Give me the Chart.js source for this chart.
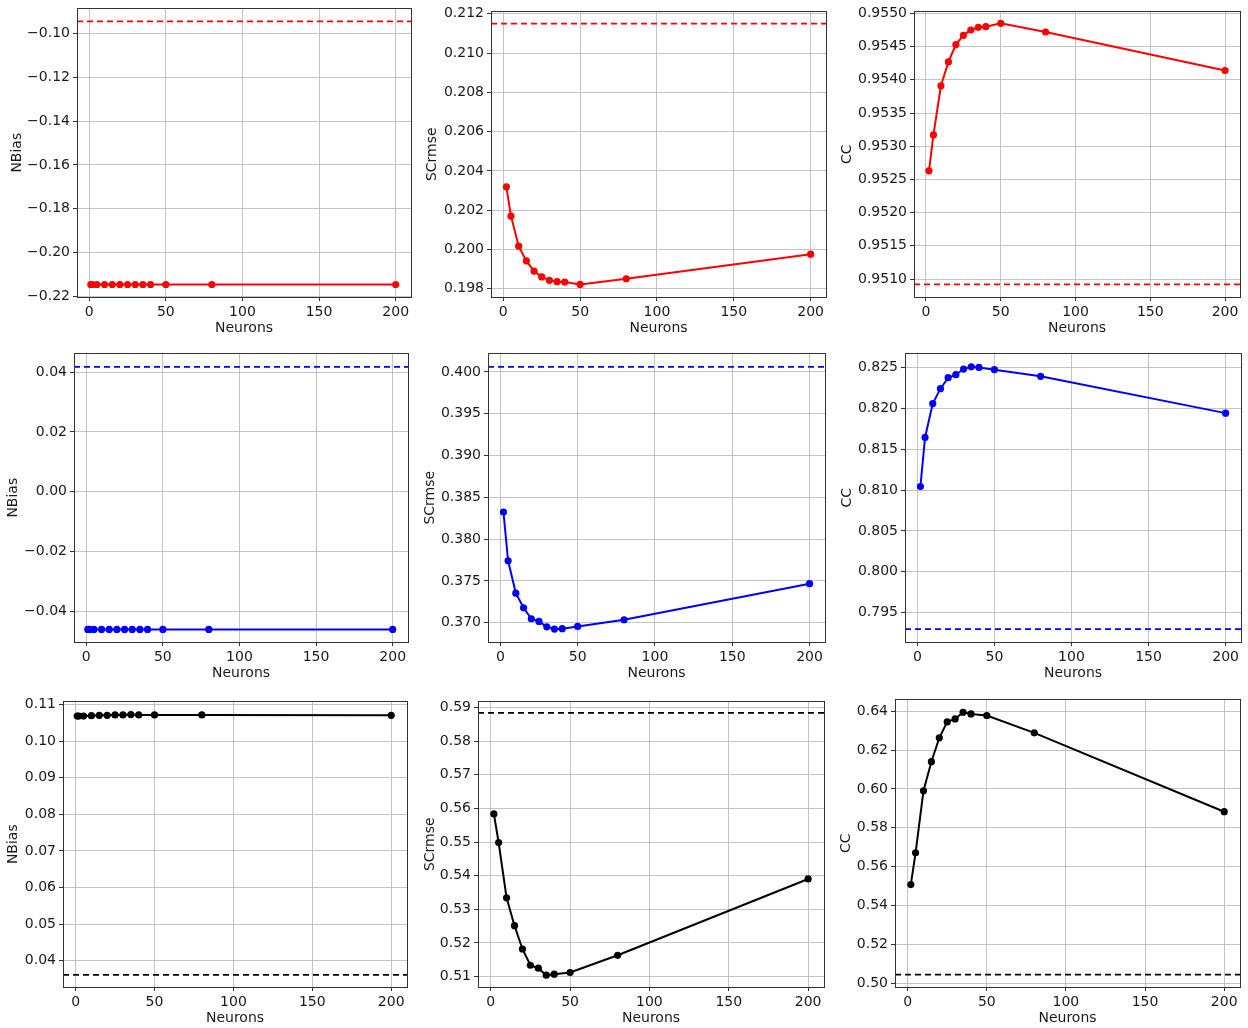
<!DOCTYPE html>
<html>
<head>
<meta charset="utf-8">
<script src="https://cdn.jsdelivr.net/npm/chart.js@4/dist/chart.umd.min.js"></script>
<style>
  body { margin: 0; background: #fff; }
  #wrap { position: relative; width: 1248px; height: 1028px; overflow: hidden; }
  .panel { position: absolute; }
</style>
</head>
<body>
<div id="wrap"></div>
<script>
// x values (number of neurons)
var neurons = [2, 5, 10, 15, 20, 25, 30, 35, 40, 50, 80, 200];
var neuronsNBias = [1, 2, 5, 10, 15, 20, 25, 30, 35, 40, 50, 80, 200];
var xTicks = [0, 50, 100, 150, 200];

// red row
var nbiasRed = [-0.2145, -0.2145, -0.2145, -0.2145, -0.2145, -0.2145, -0.2145, -0.2145, -0.2145, -0.2145, -0.2145, -0.2145, -0.2145];
var scrmseRed = [0.20319, 0.2017, 0.20017, 0.19942, 0.1989, 0.1986, 0.19843, 0.19836, 0.19834, 0.19822, 0.19851, 0.19976];
var ccRed = [0.95263, 0.95317, 0.95391, 0.95427, 0.95453, 0.95467, 0.95475, 0.95479, 0.9548, 0.95485, 0.95472, 0.95414];
var refRed = [-0.0945, 0.2115, 0.95092];

// blue row
var nbiasBlue = [-0.0461, -0.0461, -0.0461, -0.0461, -0.0461, -0.0461, -0.0461, -0.0461, -0.0461, -0.0461, -0.0461, -0.0461, -0.0461];
var scrmseBlue = [0.38325, 0.37742, 0.37354, 0.37179, 0.37048, 0.37016, 0.36952, 0.36925, 0.36929, 0.36956, 0.37036, 0.37468];
var ccBlue = [0.81045, 0.81646, 0.82061, 0.82244, 0.82378, 0.82415, 0.82484, 0.82512, 0.82504, 0.82476, 0.82395, 0.81944];
var refBlue = [0.0418, 0.4006, 0.79298];

// black row
var nbiasBlack = [0.1069, 0.1069, 0.1069, 0.107, 0.1071, 0.1071, 0.1072, 0.1072, 0.1073, 0.1072, 0.1072, 0.1072, 0.1071];
var scrmseBlack = [0.55834, 0.54986, 0.5334, 0.52512, 0.5182, 0.51337, 0.51249, 0.51041, 0.51071, 0.51121, 0.51633, 0.53902];
var ccBlack = [0.55073, 0.56712, 0.59903, 0.61403, 0.62633, 0.63452, 0.63606, 0.63949, 0.63862, 0.6378, 0.62889, 0.58827];
var refBlack = [0.0361, 0.5884, 0.5044];

// y tick labels
var ticksNBiasRed = [-0.22, -0.20, -0.18, -0.16, -0.14, -0.12, -0.10];
var ticksSCrmseRed = [0.198, 0.200, 0.202, 0.204, 0.206, 0.208, 0.210, 0.212];
var ticksCCRed = [0.9510, 0.9515, 0.9520, 0.9525, 0.9530, 0.9535, 0.9540, 0.9545, 0.9550];
var ticksNBiasBlue = [-0.04, -0.02, 0.00, 0.02, 0.04];
var ticksSCrmseBlue = [0.370, 0.375, 0.380, 0.385, 0.390, 0.395, 0.400];
var ticksCCBlue = [0.795, 0.800, 0.805, 0.810, 0.815, 0.820, 0.825];
var ticksNBiasBlack = [0.04, 0.05, 0.06, 0.07, 0.08, 0.09, 0.10, 0.11];
var ticksSCrmseBlack = [0.51, 0.52, 0.53, 0.54, 0.55, 0.56, 0.57, 0.58, 0.59];
var ticksCCBlack = [0.50, 0.52, 0.54, 0.56, 0.58, 0.60, 0.62, 0.64];

var X_MIN = -8, X_MAX = 210;
var FONT = { family: "'DejaVu Sans', sans-serif", size: 14 };
var TXT = '#1a1a1a';

// frame = [left, top, right, bottom] of the plot box, tx = centre of y title
var panels = [
  { frame: [77, 7, 411, 297],    tx: 17,  label: 'NBias',  x: neuronsNBias, y: nbiasRed,    ref: refRed[0],   color: '#ff0000', min: -0.2202, max: -0.0886, ticks: ticksNBiasRed,    dec: 2 },
  { frame: [491, 10, 826, 297],  tx: 432, label: 'SCrmse', x: neurons,      y: scrmseRed,   ref: refRed[1],   color: '#ff0000', min: 0.19758, max: 0.21212, ticks: ticksSCrmseRed,   dec: 3 },
  { frame: [914, 10, 1240, 297], tx: 847, label: 'CC',     x: neurons,      y: ccRed,       ref: refRed[2],   color: '#ff0000', min: 0.95073, max: 0.95503, ticks: ticksCCRed,       dec: 4 },
  { frame: [74, 352, 408, 642],  tx: 13,  label: 'NBias',  x: neuronsNBias, y: nbiasBlue,   ref: refBlue[0],  color: '#0000ff', min: -0.0503, max: 0.0463,  ticks: ticksNBiasBlue,   dec: 2 },
  { frame: [488, 352, 825, 642], tx: 430, label: 'SCrmse', x: neurons,      y: scrmseBlue,  ref: refBlue[1],  color: '#0000ff', min: 0.3677,  max: 0.40222, ticks: ticksSCrmseBlue,  dec: 3 },
  { frame: [905, 352, 1241, 642],tx: 847, label: 'CC',     x: neurons,      y: ccBlue,      ref: refBlue[2],  color: '#0000ff', min: 0.79139, max: 0.82676, ticks: ticksCCBlue,      dec: 3 },
  { frame: [63, 700, 407, 987],  tx: 13,  label: 'NBias',  x: neuronsNBias, y: nbiasBlack,  ref: refBlack[0], color: '#000000', min: 0.0328,  max: 0.1109,  ticks: ticksNBiasBlack,  dec: 2 },
  { frame: [478, 700, 824, 987], tx: 430, label: 'SCrmse', x: neurons,      y: scrmseBlack, ref: refBlack[1], color: '#000000', min: 0.5069,  max: 0.5918,  ticks: ticksSCrmseBlack, dec: 2 },
  { frame: [895, 698, 1240, 987],tx: 846, label: 'CC',     x: neurons,      y: ccBlack,     ref: refBlack[2], color: '#000000', min: 0.498,   max: 0.6461,  ticks: ticksCCBlack,     dec: 2 }
];

// top and right edges of the box (left/bottom come from the axis borders)
var boxPlugin = {
  id: 'box',
  afterDraw: function (chart) {
    var a = chart.chartArea, c = chart.ctx;
    c.save();
    c.strokeStyle = '#333';
    c.lineWidth = 1;
    c.strokeRect(Math.round(a.left) + 0.5, Math.round(a.top) + 0.5, Math.round(a.right - a.left), Math.round(a.bottom - a.top));
    c.restore();
  }
};

var PAD_TOP = 10, PAD_RIGHT = 12, X_AXIS_H = 40;
var wrap = document.getElementById('wrap');

panels.forEach(function (p) {
  var left = Math.round(p.tx - 8.4);
  var top = p.frame[1] - PAD_TOP;
  var w = p.frame[2] + PAD_RIGHT - left;
  var h = p.frame[3] + X_AXIS_H - top;
  var yAxisW = p.frame[0] - left;

  var div = document.createElement('div');
  div.className = 'panel';
  div.style.left = left + 'px';
  div.style.top = top + 'px';
  var cv = document.createElement('canvas');
  cv.width = w;
  cv.height = h;
  div.appendChild(cv);
  wrap.appendChild(div);

  var pts = p.x.map(function (n, i) { return { x: n, y: p.y[i] }; });
  var fmt = function (v) {
    return (v < 0 ? '\u2212' : '') + Math.abs(v).toFixed(p.dec);
  };

  new Chart(cv, {
    type: 'line',
    data: {
      datasets: [
        {
          data: [{ x: X_MIN, y: p.ref }, { x: X_MAX, y: p.ref }],
          borderColor: p.color,
          borderWidth: 1.8,
          borderDash: [6, 4],
          pointRadius: 0,
          fill: false
        },
        {
          data: pts,
          borderColor: p.color,
          backgroundColor: p.color,
          borderWidth: 2,
          pointRadius: 3.6,
          pointBorderWidth: 0,
          tension: 0,
          fill: false
        }
      ]
    },
    options: {
      responsive: false,
      animation: false,
      events: [],
      layout: { padding: { top: PAD_TOP, right: PAD_RIGHT, left: 0, bottom: 0 } },
      plugins: { legend: { display: false }, tooltip: { enabled: false } },
      scales: {
        x: {
          type: 'linear',
          min: X_MIN,
          max: X_MAX,
          afterBuildTicks: function (s) { s.ticks = xTicks.map(function (v) { return { value: v }; }); },
          afterFit: function (s) { s.height = X_AXIS_H; },
          ticks: { font: FONT, color: TXT, padding: 3, maxRotation: 0, callback: function (v) { return String(v); } },
          grid: { color: 'rgba(176,176,176,0.75)', lineWidth: 1, tickLength: 4, tickColor: '#333' },
          border: { color: '#333', width: 1 },
          title: { display: true, text: 'Neurons', font: FONT, color: TXT, padding: 0 }
        },
        y: {
          type: 'linear',
          min: p.min,
          max: p.max,
          afterBuildTicks: function (s) { s.ticks = p.ticks.map(function (v) { return { value: v }; }); },
          afterFit: function (s) { s.width = yAxisW; },
          ticks: { font: FONT, color: TXT, padding: 3, callback: fmt },
          grid: { color: 'rgba(176,176,176,0.75)', lineWidth: 1, tickLength: 4, tickColor: '#333' },
          border: { color: '#333', width: 1 },
          title: { display: true, text: p.label, font: FONT, color: TXT, padding: 0 }
        }
      }
    },
    plugins: [boxPlugin]
  });
});
</script>
</body>
</html>
